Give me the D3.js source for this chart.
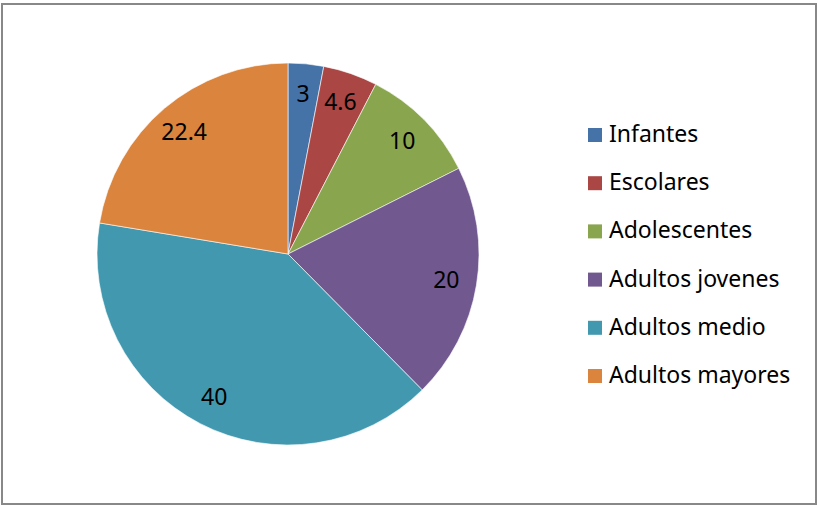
<!DOCTYPE html>
<html>
<head>
<meta charset="utf-8">
<script src="https://cdn.jsdelivr.net/npm/d3@7"></script>
<style>
  body { margin: 0; background: #fff; }
  svg text { font-family: "Noto Sans", "Open Sans", sans-serif; fill: #000; }
</style>
</head>
<body>
<div id="chart"></div>
<script>
// data
var categories = ["Infantes", "Escolares", "Adolescentes", "Adultos jovenes", "Adultos medio", "Adultos mayores"];
var values = [3, 4.6, 10, 20, 40, 22.4];
var colors = ["#4572A7", "#AA4643", "#89A54E", "#71588F", "#4198AF", "#DB843D"];

var width = 818, height = 506;
var cx = 288, cy = 254, radius = 191;

var svg = d3.select("#chart").append("svg")
    .attr("width", width)
    .attr("height", height);

// frame
svg.append("rect")
   .attr("x", 2).attr("y", 4)
   .attr("width", 814).attr("height", 500)
   .attr("fill", "#fff")
   .attr("stroke", "#888")
   .attr("stroke-width", 2);

var data = categories.map(function(c, i){ return {name: c, value: values[i], color: colors[i]}; });

var pie = d3.pie().sort(null).value(function(d){ return d.value; });
var arc = d3.arc().innerRadius(0).outerRadius(radius);
var labelArc = d3.arc().innerRadius(radius * 0.84).outerRadius(radius * 0.84);

var g = svg.append("g").attr("transform", "translate(" + cx + "," + cy + ")");

var slices = g.selectAll(".slice")
    .data(pie(data))
    .enter().append("g")
    .attr("class", "slice");

slices.append("path")
    .attr("d", arc)
    .attr("fill", function(d){ return d.data.color; })
    .attr("stroke", "#fff")
    .attr("stroke-width", 0.6);

slices.append("text")
    .attr("transform", function(d){ return "translate(" + labelArc.centroid(d) + ")"; })
    .attr("text-anchor", "middle")
    .attr("dy", ".35em")
    .attr("font-size", 23)
    .text(function(d){ return d.data.value; });

// legend
var legend = svg.append("g").attr("transform", "translate(588,128)");

var item = legend.selectAll(".item")
    .data(data)
    .enter().append("g")
    .attr("class", "item")
    .attr("transform", function(d, i){ return "translate(0," + (i * 48.2) + ")"; });

item.append("rect")
    .attr("width", 14).attr("height", 14)
    .attr("fill", function(d){ return d.color; });

item.append("text")
    .attr("x", 21)
    .attr("y", 14)
    .attr("font-size", 23)
    .text(function(d){ return d.name; });
</script>
</body>
</html>
